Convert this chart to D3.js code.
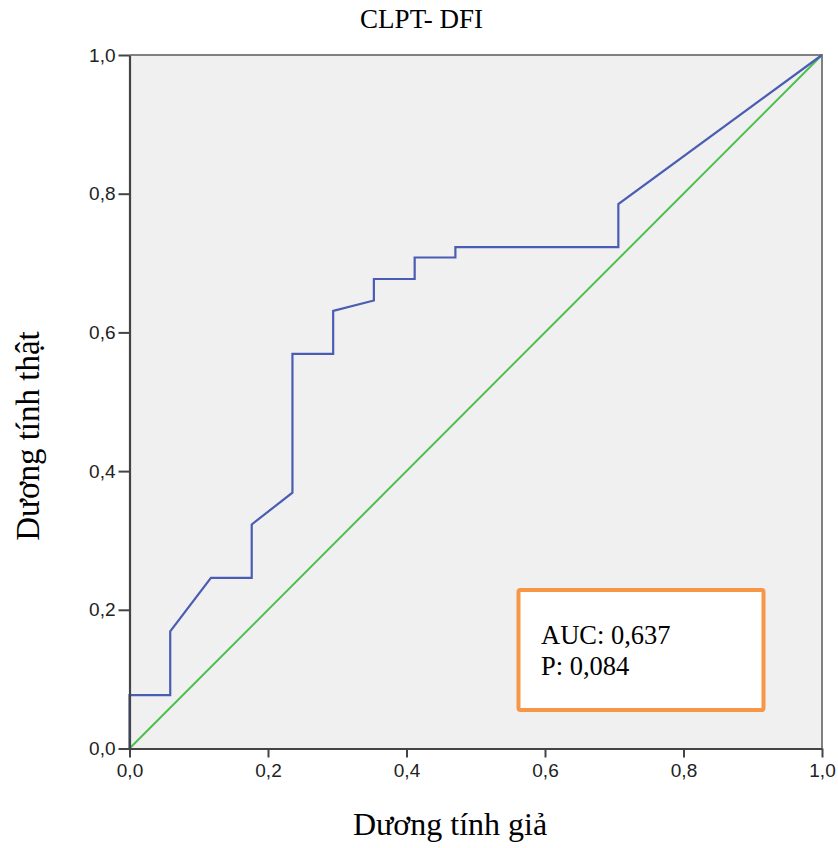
<!DOCTYPE html>
<html><head><meta charset="utf-8">
<script src="https://cdn.jsdelivr.net/npm/d3@7"></script>
<style>body{margin:0;background:#fff}svg{display:block}</style>
</head><body>
<svg id="c" width="838" height="848"></svg>
<script>
const title = "CLPT- DFI";
const xLabel = "Dương tính giả";
const yLabel = "Dương tính thật";
const tickValues = [0, 0.2, 0.4, 0.6, 0.8, 1.0];
const tickLabels = ["0,0", "0,2", "0,4", "0,6", "0,8", "1,0"];
// ROC curve (false positive rate, true positive rate)
const fpr = [0, 0, 0.0588, 0.0588, 0.1176, 0.1765, 0.1765, 0.2353, 0.2353, 0.2941, 0.2941, 0.3529, 0.3529, 0.4118, 0.4118, 0.4706, 0.4706, 0.7059, 0.7059, 1.0];
const tpr = [0, 0.077, 0.077, 0.169, 0.246, 0.246, 0.323, 0.369, 0.569, 0.569, 0.631, 0.646, 0.677, 0.677, 0.708, 0.708, 0.723, 0.723, 0.785, 1.0];
const refLine = [[0, 0], [1, 1]];
const statLines = ["AUC: 0,637", "P: 0,084"];

const svg = d3.select("#c");
const L = 129.5, R = 822, T = 55, B = 748.5;
const x = d3.scaleLinear().domain([0, 1]).range([L, R]);
const y = d3.scaleLinear().domain([0, 1]).range([B, T]);

svg.append("rect").attr("x", L).attr("y", T).attr("width", R - L).attr("height", B - T).attr("fill", "#f0f0f0");
// frame top/right
svg.append("path").attr("d", `M${L},${T}H${R}V${B}`).attr("fill", "none").attr("stroke", "#808080").attr("stroke-width", 2);

// reference diagonal
svg.append("path").datum(refLine)
  .attr("d", d3.line().x(d => x(d[0])).y(d => y(d[1])))
  .attr("fill", "none").attr("stroke", "#4cbf4f").attr("stroke-width", 2);

// ROC curve
const pts = fpr.map((v, i) => [v, tpr[i]]);
svg.append("path").datum(pts)
  .attr("d", d3.line().x(d => x(d[0])).y(d => y(d[1])))
  .attr("fill", "none").attr("stroke", "#4a5db3").attr("stroke-width", 2.2).attr("stroke-linejoin", "miter");

// axes
const fmt = d => tickLabels[tickValues.indexOf(d)];
const xAxis = svg.append("g").attr("transform", `translate(0,${B})`)
  .call(d3.axisBottom(x).tickValues(tickValues).tickFormat(fmt).tickSize(9).tickPadding(6).tickSizeOuter(0));
const yAxis = svg.append("g").attr("transform", `translate(${L},0)`)
  .call(d3.axisLeft(y).tickValues(tickValues).tickFormat(fmt).tickSize(11).tickPadding(3).tickSizeOuter(0));
[xAxis, yAxis].forEach(g => {
  g.select(".domain").attr("stroke", "#444").attr("stroke-width", 2.2);
  g.selectAll(".tick line").attr("stroke", "#444").attr("stroke-width", 2);
  g.selectAll(".tick text").attr("fill", "#222").attr("font-family", "'Liberation Sans', Arial, sans-serif").attr("font-size", 19);
});

// titles
svg.append("text").attr("x", 421.5).attr("y", 28).attr("text-anchor", "middle")
  .attr("font-family", "'Liberation Serif', 'Times New Roman', serif").attr("font-size", 27).attr("fill", "#000").text(title);
svg.append("text").attr("x", 450).attr("y", 835).attr("text-anchor", "middle")
  .attr("font-family", "'Liberation Serif', 'Times New Roman', serif").attr("font-size", 32).attr("fill", "#000").text(xLabel);
svg.append("text").attr("transform", "translate(39,436) rotate(-90)").attr("text-anchor", "middle")
  .attr("font-family", "'Liberation Serif', 'Times New Roman', serif").attr("font-size", 33).attr("fill", "#000").text(yLabel);

// stats box
svg.append("rect").attr("x", 518.5).attr("y", 590).attr("width", 245).attr("height", 120).attr("rx", 2)
  .attr("fill", "#fff").attr("stroke", "#f79646").attr("stroke-width", 4);
svg.selectAll("text.stat").data(statLines).join("text").attr("class", "stat")
  .attr("x", 541).attr("y", (d, i) => 644 + i * 31)
  .attr("font-family", "'Liberation Serif', 'Times New Roman', serif").attr("font-size", 26.5).attr("fill", "#000").text(d => d);
</script>
</body></html>
